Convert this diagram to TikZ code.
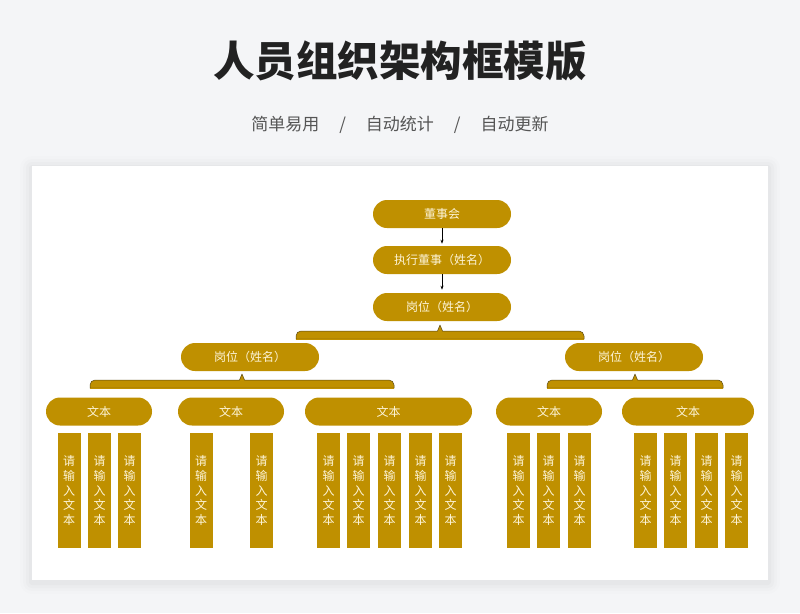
\documentclass[tikz,border=0pt]{standalone}
\usepackage{fontspec}
\newfontfamily\cjk{Noto Sans CJK SC}
\usetikzlibrary{arrows.meta,calc}
\definecolor{gold}{RGB}{191,144,0}
\definecolor{cream}{RGB}{253,244,215}
\definecolor{bg}{RGB}{244,245,247}
\definecolor{edge}{RGB}{90,72,20}
\tikzset{
  pill/.style={fill=gold,draw=none,rounded corners=14pt,minimum height=28pt,inner sep=0pt,
    text=cream,font=\cjk\fontsize{12}{14}\selectfont},
  vbox/.style={fill=gold,draw=none,minimum width=23pt,minimum height=115pt,inner sep=0pt,
    text=cream,align=center,font=\cjk\fontsize{12}{14.6}\selectfont},
  link/.style={-{Stealth[length=4pt,width=3pt]},line width=0.6pt,black},
  brace/.style={fill=gold,draw=edge,line width=0.5pt,line join=round}
}
\newcommand{\orgbrace}[4]{% x1, x2, xc, ytop
  \path[brace] (#1,#4+8) -- (#1,#4+5) arc[start angle=180,end angle=90,radius=5pt]
    -- (#3-2.5,#4) -- (#3,#4-6) -- (#3+2.5,#4) -- (#2-5,#4)
    arc[start angle=90,end angle=0,radius=5pt] -- (#2,#4+8) -- cycle;
  \fill[gold] (#1,#4+7.6) rectangle (#2,#4+8.3);
}
\newcommand{\vt}{请\\输\\入\\文\\本}
\begin{document}
\begin{tikzpicture}[x=1pt,y=-1pt]
\useasboundingbox (0,0) rectangle (800,613);
\fill[bg] (0,0) rectangle (800,613);
% panel shadow
\foreach \d/\o in {12/0.008,9/0.012,6/0.016,3/0.02}{
  \fill[black,opacity=\o,rounded corners=\d pt] (32-\d,166-\d+2) rectangle (768+\d,580+\d+2);
}
\fill[white] (32,166) rectangle (768,580);
% title
\node (title) at (400,61) {\cjk\bfseries\fontsize{41.5}{46}\selectfont\color[RGB]{34,34,34}人员组织架构框模版};
\node (sub) at (400,125) {\cjk\fontsize{17}{20}\selectfont\color[RGB]{85,85,85}简单易用\hspace{20pt}/\hspace{20pt}自动统计\hspace{20pt}/\hspace{20pt}自动更新};
% top chain
\node[pill,minimum width=138pt] (board) at (442,214) {董事会};
\node[pill,minimum width=138pt] (exec) at (442,260) {执行董事（姓名）};
\node[pill,minimum width=138pt] (pos) at (442,307) {岗位（姓名）};
\draw[link] (board.south) -- ++(0,15.5);
\draw[link] (exec.south) -- ++(0,15.5);
\orgbrace{296}{584}{440}{331}
% level 2
\node[pill,minimum width=138pt] (posL) at (250,357) {岗位（姓名）};
\node[pill,minimum width=138pt] (posR) at (634,357) {岗位（姓名）};
\orgbrace{90}{394}{242}{380}
\orgbrace{547}{723}{635}{380}
% level 3
\node[pill,minimum width=106pt] (t1) at (99,411.5) {文本};
\node[pill,minimum width=106pt] (t2) at (231,411.5) {文本};
\node[pill,minimum width=167pt] (t3) at (388.5,411.5) {文本};
\node[pill,minimum width=106pt] (t4) at (549,411.5) {文本};
\node[pill,minimum width=132pt] (t5) at (688,411.5) {文本};
% vertical boxes
\node[vbox] (v1) at (69,490.5) {\vt};
\node[vbox] (v2) at (99.5,490.5) {\vt};
\node[vbox] (v3) at (129.5,490.5) {\vt};
\node[vbox] (v4) at (201,490.5) {\vt};
\node[vbox] (v5) at (261.5,490.5) {\vt};
\node[vbox] (v6) at (328.5,490.5) {\vt};
\node[vbox] (v7) at (358.5,490.5) {\vt};
\node[vbox] (v8) at (389.5,490.5) {\vt};
\node[vbox] (v9) at (420.5,490.5) {\vt};
\node[vbox] (v10) at (450.5,490.5) {\vt};
\node[vbox] (v11) at (518.5,490.5) {\vt};
\node[vbox] (v12) at (548.5,490.5) {\vt};
\node[vbox] (v13) at (579.5,490.5) {\vt};
\node[vbox] (v14) at (645.5,490.5) {\vt};
\node[vbox] (v15) at (675.5,490.5) {\vt};
\node[vbox] (v16) at (706.5,490.5) {\vt};
\node[vbox] (v17) at (736.5,490.5) {\vt};
\end{tikzpicture}
\end{document}
